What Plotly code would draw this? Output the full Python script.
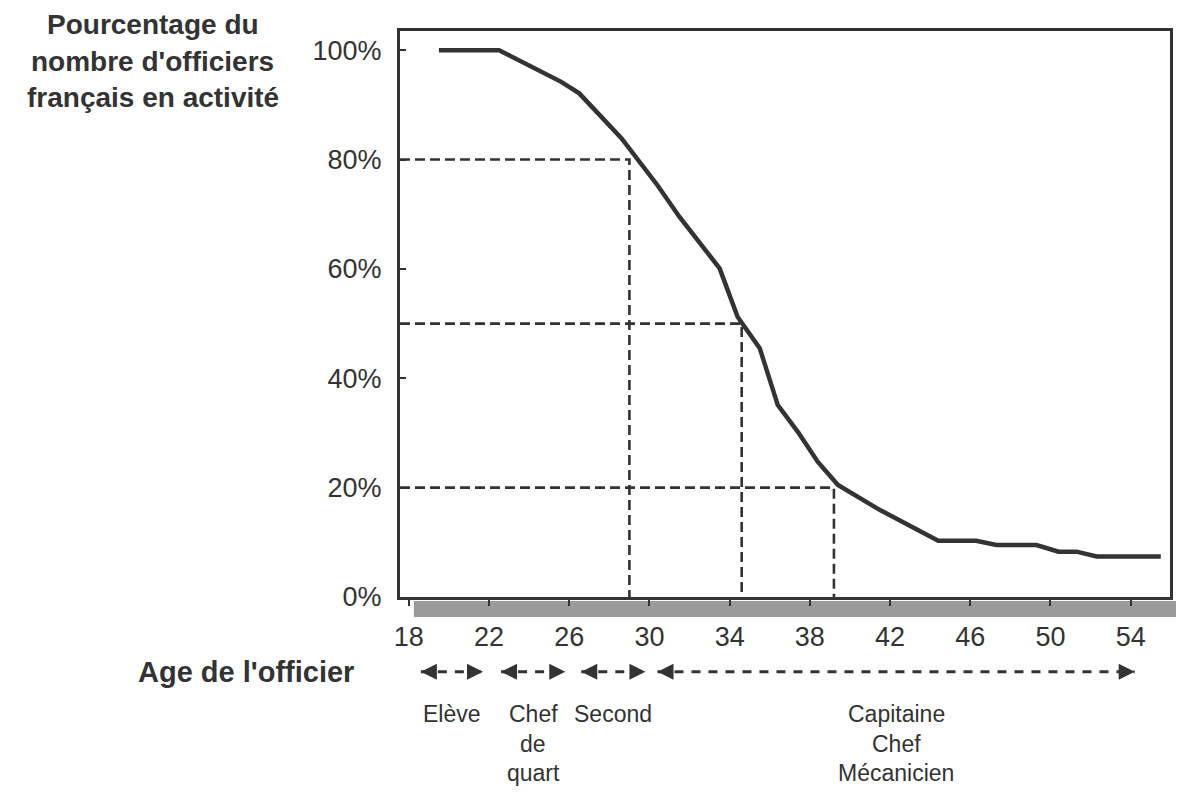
import plotly.graph_objects as go

# ---- data ----
ages = [19.5, 22.5, 25.6, 26.5, 28.6, 30.4, 31.5, 32.4, 33.5, 34.4, 35.5, 36.4,
        37.4, 38.4, 39.4, 41.5, 44.4, 46.3, 47.3, 49.3, 50.4, 51.3, 52.3, 55.5]
pct = [100, 100, 94.2, 92.1, 83.9, 75.3, 69.5, 65.3, 60.1, 51.2, 45.5, 35.1,
       30.2, 24.7, 20.5, 15.9, 10.3, 10.3, 9.5, 9.5, 8.3, 8.3, 7.4, 7.4]

ref_pct = [80, 50, 20]
ref_age = [29.0, 34.6, 39.2]

x_ticks = [18, 22, 26, 30, 34, 38, 42, 46, 50, 54]
y_ticks = [0, 20, 40, 60, 80, 100]
y_tick_text = ["0%", "20%", "40%", "60%", "80%", "100%"]

phase_labels = [["Elève"], ["Chef", "de", "quart"], ["Second"], ["Capitaine", "Chef", "Mécanicien"]]
phase_start = [18.6, 22.6, 26.6, 30.4]
phase_end = [21.7, 25.8, 29.8, 54.2]

y_title_lines = ["Pourcentage du", "nombre d'officiers", "français en activité"]
x_title = "Age de l'officier"

# ---- styling ----
INK = "#333333"
FONT = "Liberation Sans, Arial, sans-serif"
X_RANGE = [17.56, 55.96]
Y_RANGE = [0, 103.5]

fig = go.Figure()

# dashed reference lines
for a, p in zip(ref_age, ref_pct):
    fig.add_trace(go.Scatter(
        x=[X_RANGE[0], a, a], y=[p, p, 0], mode="lines",
        line=dict(color=INK, width=2.6, dash="10px,5px"),
        hoverinfo="skip", showlegend=False, xaxis="x", yaxis="y"))

# main curve
fig.add_trace(go.Scatter(
    x=ages, y=pct, mode="lines",
    line=dict(color=INK, width=4.5),
    showlegend=False, xaxis="x", yaxis="y"))

# phase arrows (in lower panel sharing the x axis)
ARROW_Y = 0.631
for s, e in zip(phase_start, phase_end):
    fig.add_trace(go.Scatter(
        x=[s, e], y=[ARROW_Y, ARROW_Y], mode="lines+markers",
        line=dict(color=INK, width=3, dash="9px,8px"),
        marker=dict(symbol=["arrow-left", "arrow-right"], size=16, color=INK,
                    line=dict(width=0)),
        hoverinfo="skip", showlegend=False, xaxis="x", yaxis="y2"))

annotations = []
line_ys = [0.397, 0.2318, 0.0717]
for lbl, s, e in zip(phase_labels, phase_start, phase_end):
    mid = (s + e) / 2
    for i, t in enumerate(lbl):
        annotations.append(dict(
            x=mid, y=line_ys[i], xref="x", yref="y2", text=t, showarrow=False,
            xanchor="center", yanchor="middle",
            font=dict(family=FONT, size=23, color=INK)))

annotations.append(dict(
    x=-0.1994, y=0.629, xref="paper", yref="y2", text="<b>%s</b>" % x_title,
    showarrow=False, xanchor="center", yanchor="middle",
    font=dict(family=FONT, size=29, color=INK)))

for i, t in enumerate(y_title_lines):
    annotations.append(dict(
        x=-0.3208, y=[1.00795, 0.96026, 0.91126][i], xref="paper", yref="paper",
        text="<b>%s</b>" % t, showarrow=False, xanchor="center", yanchor="middle",
        font=dict(family=FONT, size=28, color=INK)))

shapes = [
    # grey floor shadow under the x axis
    dict(type="rect", xref="paper", yref="paper", x0=0.018, x1=1.0078,
         y0=0.2238, y1=0.245, fillcolor="#9a9a9a", line=dict(width=0), layer="below"),
]

# page body has an 8px margin: the figure is sized so the page is 1184x796
fig.update_layout(
    width=1168, height=780,
    margin=dict(l=392, r=6, t=23, b=2),
    paper_bgcolor="white", plot_bgcolor="white",
    font=dict(family=FONT, color=INK),
    annotations=annotations, shapes=shapes,
    xaxis=dict(range=X_RANGE, tickmode="array", tickvals=x_ticks,
               ticks="outside", ticklen=6, tickwidth=2, tickcolor=INK,
               showline=True, linecolor=INK, linewidth=3, mirror=True,
               showgrid=False, zeroline=False, anchor="y", automargin=False,
               tickfont=dict(family=FONT, size=27, color=INK),
               ticklabelstandoff=8),
    yaxis=dict(range=Y_RANGE, domain=[0.2503, 1], tickmode="array",
               tickvals=y_ticks, ticktext=y_tick_text,
               ticks="inside", ticklen=6, tickwidth=2, tickcolor=INK,
               showline=True, linecolor=INK, linewidth=3, mirror=True,
               showgrid=False, zeroline=False, automargin=False,
               tickfont=dict(family=FONT, size=27, color=INK),
               ticklabelstandoff=10),
    yaxis2=dict(domain=[0, 0.24], range=[0, 1], visible=False, anchor="x",
                automargin=False),
)

fig.write_html("out.html")
